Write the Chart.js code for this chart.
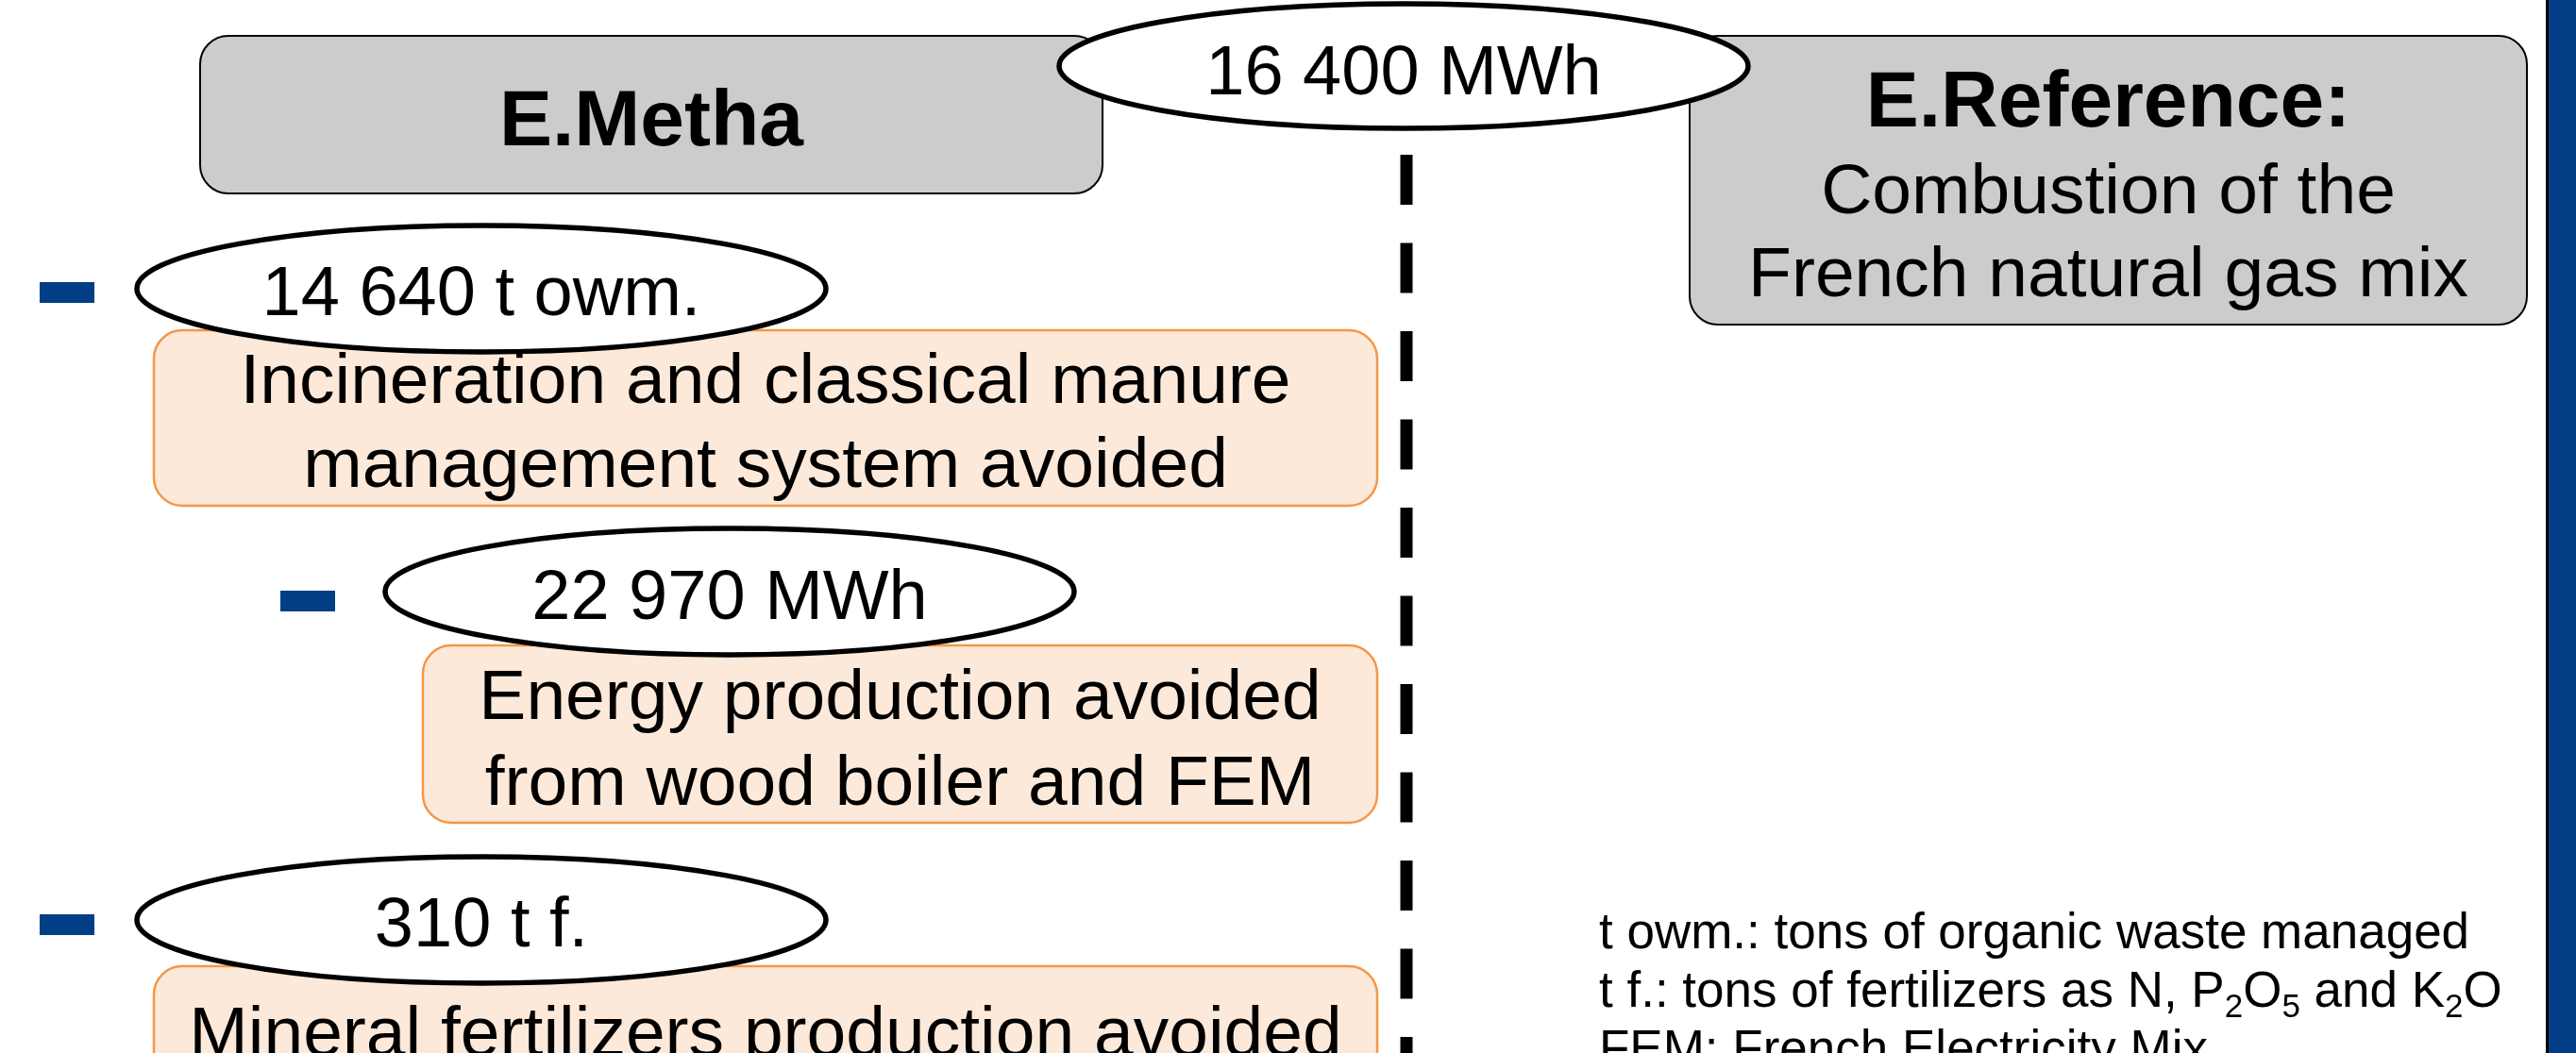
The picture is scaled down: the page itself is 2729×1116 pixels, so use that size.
<!DOCTYPE html>
<html>
<head>
<meta charset="utf-8">
<title>E.Metha vs E.Reference</title>
<script src="https://cdn.jsdelivr.net/npm/chart.js@4.4.0/dist/chart.umd.min.js"></script>
<style>
  html, body { margin: 0; padding: 0; background: #ffffff; overflow: hidden; }
  #diagram { display: block; }
</style>
</head>
<body>
<canvas id="diagram" width="2729" height="1116"></canvas>
<script>
// Texts and values
const headerTitles = ['E.Metha', 'E.Reference:'];
const referenceLines = ['Combustion of the', 'French natural gas mix'];
const producedEnergy = '16 400 MWh';
const avoidedAmounts = ['14 640 t owm.', '22 970 MWh', '310 t f.'];
const avoidedLabels = [
    ['Incineration and classical manure', 'management system avoided'],
    ['Energy production avoided', 'from wood boiler and FEM'],
    ['Mineral fertilizers production avoided']
];
// footnote lines, each a list of [text, isSubscript]
const footnotes = [
    [['t owm.: tons of organic waste managed', false]],
    [['t f.: tons of fertilizers as N, P', false], ['2', true], ['O', false], ['5', true],
     [' and K', false], ['2', true], ['O', false]],
    [['FEM: French Electricity Mix', false]]
];

// Layout (in canvas units of the linear scales)
const W = 2729, H = 1116;
const headerBoxes = [[212, 38, 1168, 205], [1790, 38, 2677, 344]];
const headerBaselines = [154, 134];
const referenceBaselines = [226, 314];
const energyEllipse = [1487, 70, 365, 66];
const amountEllipses = [[510, 306], [773, 627], [510, 975]];
const amountBaselines = [334, 656, 1003];
const bulletLefts = [42, 297, 42];
const bulletMids = [310, 637, 980];
const labelBoxes = [[163, 350, 1459, 536], [448, 684, 1459, 872], [163, 1024, 1459, 1220]];
const labelBaselines = [[427, 516], [762, 853], [1119]];
const dividerX = 1490;
const footnoteX = 1694;
const footnoteBaselines = [1005, 1067, 1129];

const FONT = '"Liberation Sans", Arial, Helvetica, sans-serif';

function roundBox(ctx, x0, y0, x1, y1, r, fill, stroke, lw) {
    ctx.beginPath();
    ctx.roundRect(x0, y0, x1 - x0, y1 - y0, r);
    ctx.fillStyle = fill;
    ctx.fill();
    ctx.lineWidth = lw;
    ctx.strokeStyle = stroke;
    ctx.stroke();
}

function ellipse(ctx, cx, cy, rx, ry) {
    ctx.beginPath();
    ctx.ellipse(cx, cy, rx, ry, 0, 0, Math.PI * 2);
    ctx.fillStyle = '#ffffff';
    ctx.fill();
    ctx.lineWidth = 5.5;
    ctx.strokeStyle = '#000000';
    ctx.stroke();
}

const diagramPlugin = {
    id: 'diagram',
    afterDatasetsDraw(chart) {
        const ctx = chart.ctx;
        const sx = v => chart.scales.x.getPixelForValue(v);
        const sy = v => chart.scales.y.getPixelForValue(v);
        ctx.save();

        // blue band on the right
        ctx.fillStyle = '#023e85';
        ctx.fillRect(sx(2699), sy(0), sx(W) - sx(2699), sy(H) - sy(0));
        ctx.fillStyle = '#000000';
        ctx.fillRect(sx(2697), sy(0), 3, sy(H) - sy(0));

        // header boxes
        headerBoxes.forEach(b => {
            roundBox(ctx, sx(b[0]), sy(b[1]), sx(b[2]), sy(b[3]), 30, '#cccccc', '#000000', 2);
        });

        // orange boxes
        labelBoxes.forEach(b => {
            roundBox(ctx, sx(b[0]), sy(b[1]), sx(b[2]), sy(b[3]), 30, '#fde9d9', '#f79646', 2.5);
        });

        // ellipses
        ellipse(ctx, sx(energyEllipse[0]), sy(energyEllipse[1]), energyEllipse[2], energyEllipse[3]);
        amountEllipses.forEach(e => ellipse(ctx, sx(e[0]), sy(e[1]), 365, 67));

        // bullets
        ctx.fillStyle = '#023e85';
        bulletLefts.forEach((x, i) => {
            ctx.fillRect(sx(x), sy(bulletMids[i] - 11), 58, 22);
        });

        // texts
        ctx.fillStyle = '#000000';
        ctx.textAlign = 'center';
        ctx.textBaseline = 'alphabetic';

        ctx.font = 'bold 84px ' + FONT;
        headerTitles.forEach((t, i) => {
            const b = headerBoxes[i];
            ctx.fillText(t, sx((b[0] + b[2]) / 2), sy(headerBaselines[i]));
        });

        ctx.font = '75px ' + FONT;
        referenceLines.forEach((t, i) => {
            const b = headerBoxes[1];
            ctx.fillText(t, sx((b[0] + b[2]) / 2), sy(referenceBaselines[i]));
        });

        ctx.font = '74px ' + FONT;
        ctx.fillText(producedEnergy, sx(energyEllipse[0]), sy(100));

        avoidedAmounts.forEach((t, i) => {
            ctx.fillText(t, sx(amountEllipses[i][0]), sy(amountBaselines[i]));
        });

        ctx.font = '75px ' + FONT;
        avoidedLabels.forEach((lines, i) => {
            const b = labelBoxes[i];
            lines.forEach((t, j) => {
                ctx.fillText(t, sx((b[0] + b[2]) / 2), sy(labelBaselines[i][j]));
            });
        });

        // footnotes with subscripts
        ctx.textAlign = 'left';
        footnotes.forEach((parts, i) => {
            let x = sx(footnoteX);
            const y = sy(footnoteBaselines[i]);
            parts.forEach(([t, sub]) => {
                ctx.font = (sub ? '35px ' : '53px ') + FONT;
                ctx.fillText(t, x, sub ? y + 11 : y);
                x += ctx.measureText(t).width;
            });
        });

        ctx.restore();
    }
};

const chart = new Chart(document.getElementById('diagram'), {
    type: 'line',
    data: {
        datasets: [{
            label: 'divider',
            data: [{ x: dividerX, y: 164 }, { x: dividerX, y: H + 20 }],
            borderColor: '#000000',
            borderWidth: 13,
            borderDash: [53, 40.5],
            pointRadius: 0,
            fill: false
        }]
    },
    options: {
        responsive: false,
        animation: false,
        events: [],
        layout: { padding: 0 },
        plugins: { legend: { display: false }, tooltip: { enabled: false } },
        scales: {
            x: { type: 'linear', min: 0, max: W, display: false },
            y: { type: 'linear', min: 0, max: H, reverse: true, display: false }
        }
    },
    plugins: [diagramPlugin]
});
</script>
</body>
</html>
